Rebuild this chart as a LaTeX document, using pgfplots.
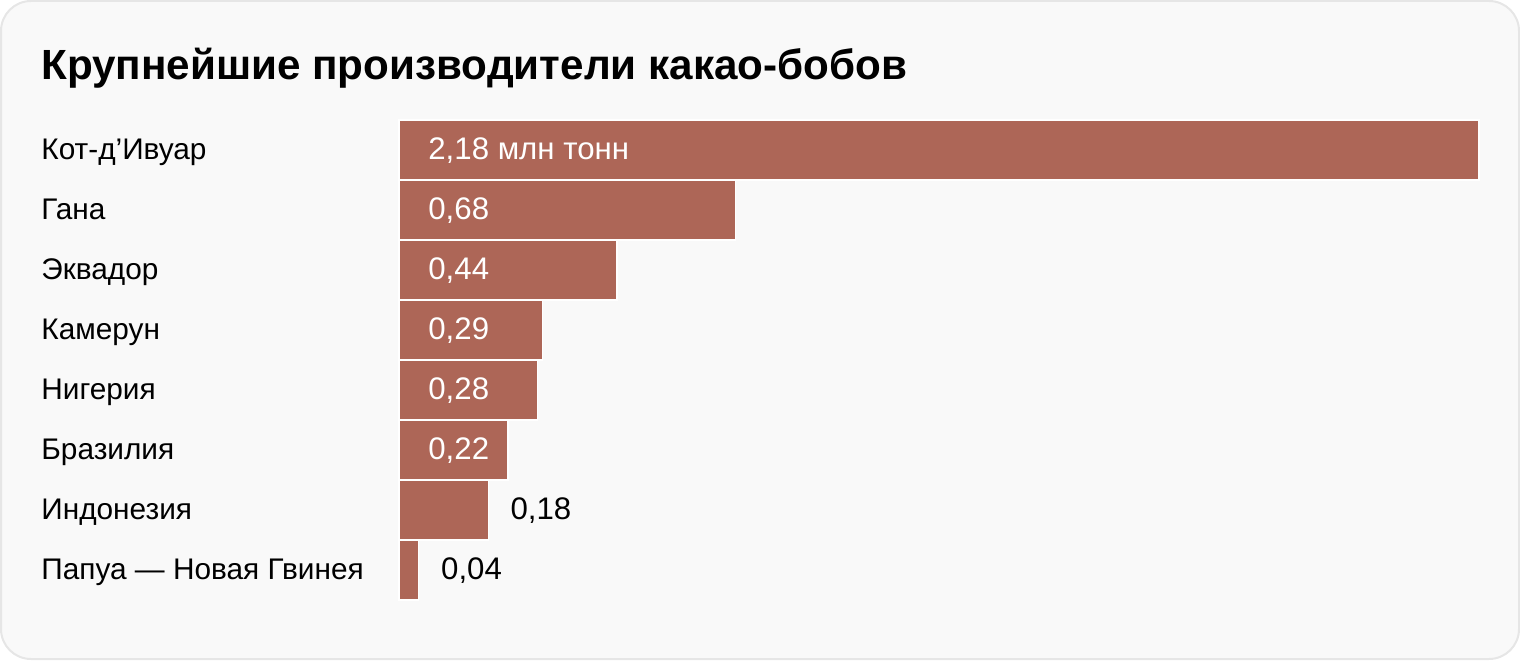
\documentclass[border=0pt]{standalone}
\usepackage{pgfplots}
\pgfplotsset{compat=1.18}
\usepackage{fontspec}
\setmainfont{Liberation Sans}
\definecolor{barc}{HTML}{AD6657}
\definecolor{bgc}{HTML}{F9F9F9}
\definecolor{borderc}{HTML}{E6E6E6}
\begin{document}
\begin{tikzpicture}
\path[use as bounding box] (0,0) rectangle (760pt,330pt);
\filldraw[fill=bgc, draw=borderc, line width=1pt, rounded corners=15pt] (0.5pt,0.5pt) rectangle (759.5pt,329.5pt);
\node[anchor=base west, inner sep=0, font=\bfseries\fontsize{21.1}{25}\selectfont] at (20.5pt,290pt) {Крупнейшие производители какао-бобов};
\begin{axis}[
  at={(199.5pt,30pt)}, anchor=south west,
  scale only axis, width=540pt, height=240pt,
  xmin=0, xmax=2.18, ymin=-0.5, ymax=7.5, y dir=reverse,
  axis line style={draw=none}, xtick=\empty,
  ytick={0,...,7}, major tick length=0pt,
  yticklabels={Кот-д’Ивуар,Гана,Эквадор,Камерун,Нигерия,Бразилия,Индонезия,Папуа — Новая Гвинея},
  yticklabel style={anchor=west, inner sep=0pt, xshift=-179pt, font=\fontsize{14.9}{17}\selectfont, text height=10.75pt, text depth=1.75pt},
  clip=false,
]
\addplot[xbar, bar width=30pt, fill=barc, draw=white, line width=0.6pt] coordinates {
(2.18,0) (0.68,1) (0.44,2) (0.29,3) (0.28,4) (0.22,5) (0.18,6) (0.04,7)};
\addplot[draw=none, mark=none, nodes near coords, point meta=explicit symbolic,
  nodes near coords style={anchor=west, inner sep=0pt, xshift=14.5pt, text=white, font=\fontsize{15.6}{18}\selectfont, text height=10.75pt, text depth=1.75pt}]
  table[meta=lab, col sep=semicolon] {
x;y;lab
0;0;2,18 млн тонн
0;1;0,68
0;2;0,44
0;3;0,29
0;4;0,28
0;5;0,22
};
\addplot[draw=none, mark=none, nodes near coords, point meta=explicit symbolic,
  nodes near coords style={anchor=west, inner sep=0pt, xshift=11pt, text=black, font=\fontsize{15.6}{18}\selectfont, text height=10.75pt, text depth=1.75pt}]
  table[meta=lab, col sep=semicolon] {
x;y;lab
0.18;6;0,18
0.04;7;0,04
};
\end{axis}
\end{tikzpicture}
\end{document}
